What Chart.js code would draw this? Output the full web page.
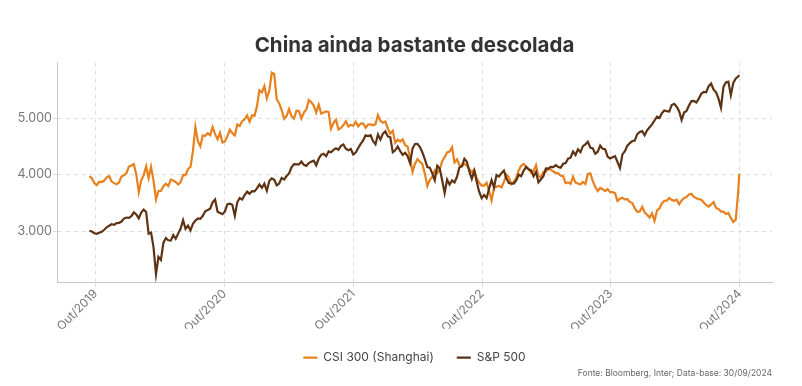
<!DOCTYPE html>
<html>
<head>
<meta charset="utf-8">
<title>China ainda bastante descolada</title>
<script src="https://cdn.jsdelivr.net/npm/chart.js@4.4.0/dist/chart.umd.min.js"></script>
<style>
  html, body { margin: 0; padding: 0; background: #fff; }
</style>
</head>
<body>
<canvas id="grafico" width="802" height="386"></canvas>
<script>
// semanas (sextas-feiras) a partir de 13/09/2019, mais o ultimo dia util 30/09/2024
var primeiraSemana = '2019-09-13';
var ultimoDia = '2024-09-30';

// CSI 300 (Shanghai), fechamentos semanais
var csi300 = [
  // 2019
  3972, 3935, 3852,
  3814, 3874, 3869, 3895,
  3952, 3973, 3877, 3849, 3828,
  3861, 3968, 3990, 4022,
  // 2020
  4144, 4163, 4186, 4003, 3690,
  3899, 3987, 4149, 3940,
  4139, 3895, 3560, 3710,
  3713, 3796, 3839, 3797,
  3912, 3895, 3868, 3824, 3867,
  3990, 3990, 4099, 4138,
  4415, 4844, 4594, 4505, 4695,
  4689, 4732, 4699, 4843,
  4717, 4628, 4739, 4570,
  4587, 4681, 4793, 4734, 4695,
  4888, 4861, 4948, 4980,
  5050, 4938, 5052, 5042,
  // 2021
  5211, 5495, 5458, 5569, 5351,
  5484, 5807, 5779, 5336,
  5262, 5146, 4990, 5037,
  5161, 5035, 4991, 5135, 5123,
  4996, 5101, 5153, 5321,
  5282, 5225, 5102, 5240,
  5082, 5102, 5122, 5112, 4812,
  4916, 4972, 4798, 4827,
  4879, 4947, 4855, 4880,
  4866, 4933, 4855, 4904, 4909,
  4832, 4888, 4889, 4874,
  4895, 5055, 4954, 4921, 4940,
  // 2022
  4818, 4726, 4779, 4564,
  4617, 4587, 4626, 4521,
  4499, 4301, 4050, 4189,
  4276, 4230, 4186, 4013, 3800,
  3908, 3961, 4077, 4027,
  4091, 4238, 4309, 4394,
  4409, 4485, 4216, 4272, 4170,
  4156, 4191, 4160, 4100,
  4044, 4085, 3932, 3856, 3804,
  3804, 3855, 3715, 3541,
  3768, 3787, 3801, 3775,
  3871, 4002, 3954, 3828, 3872,
  // 2023
  3945, 4074, 4156, 4190,
  4141, 4106, 4034, 4061,
  4167, 3967, 3958, 4049, 4051,
  4105, 4089, 4054, 4030,
  4025, 3982, 3974, 3850,
  3862, 3837, 3963, 3859, 3842,
  3826, 3869, 3833, 4013,
  4023, 3884, 3784, 3710,
  3765, 3740, 3708, 3743, 3689,
  3689, 3673, 3531, 3573,
  3590, 3562, 3564, 3517,
  3497, 3399, 3342, 3348, 3431,
  // 2024
  3329, 3290, 3239, 3314,
  3179, 3364, 3400, 3489,
  3537, 3540, 3587, 3552, 3537,
  3555, 3475, 3542, 3584,
  3604, 3647, 3659, 3605, 3580,
  3565, 3554, 3505, 3462,
  3432, 3472, 3514, 3409,
  3393, 3343, 3345, 3303, 3321,
  3233, 3160, 3201, 3703,
  4017
];

// S&P 500, fechamentos semanais
var sp500 = [
  // 2019
  3007, 2992, 2962,
  2952, 2970, 2986, 3023,
  3067, 3093, 3120, 3110, 3141,
  3146, 3169, 3221, 3240,
  // 2020
  3235, 3265, 3330, 3295, 3226,
  3328, 3380, 3338, 2954,
  2972, 2711, 2237, 2541,
  2489, 2790, 2875, 2837,
  2831, 2930, 2864, 2955, 3044,
  3194, 3041, 3098, 3009,
  3130, 3185, 3225, 3216, 3271,
  3351, 3373, 3397, 3508,
  3560, 3341, 3319, 3298,
  3348, 3477, 3484, 3465, 3270,
  3510, 3585, 3558, 3638,
  3699, 3663, 3709, 3703,
  // 2021
  3756, 3825, 3768, 3841, 3714,
  3887, 3934, 3907, 3811,
  3842, 3943, 3913, 3975,
  4020, 4129, 4185, 4180, 4181,
  4233, 4174, 4156, 4204,
  4230, 4247, 4166, 4281,
  4352, 4370, 4327, 4412, 4395,
  4437, 4468, 4442, 4509,
  4535, 4459, 4433, 4455,
  4357, 4391, 4471, 4545, 4605,
  4697, 4683, 4698, 4595,
  4538, 4712, 4620, 4726, 4766,
  // 2022
  4677, 4662, 4398, 4432,
  4500, 4419, 4349, 4385,
  4329, 4204, 4463, 4543,
  4546, 4488, 4393, 4272, 4132,
  4123, 4023, 3901, 4158,
  4109, 3901, 3675, 3912,
  3825, 3899, 3863, 3962, 4130,
  4145, 4280, 4228, 4058,
  3924, 4067, 3873, 3693, 3586,
  3640, 3583, 3753, 3901,
  3771, 3993, 3965, 4026,
  4072, 3934, 3852, 3845, 3840,
  // 2023
  3895, 3999, 3973, 4071,
  4136, 4090, 4079, 3970,
  4046, 3862, 3917, 3971, 4109,
  4105, 4138, 4133, 4169,
  4136, 4124, 4192, 4205,
  4282, 4299, 4410, 4348, 4450,
  4399, 4505, 4536, 4582,
  4478, 4464, 4370, 4406,
  4516, 4457, 4450, 4320, 4288,
  4308, 4327, 4224, 4117,
  4358, 4415, 4514, 4559,
  4595, 4604, 4719, 4755, 4770,
  // 2024
  4697, 4784, 4840, 4891,
  4959, 5027, 5005, 5089,
  5137, 5124, 5117, 5234, 5254,
  5204, 5123, 4967, 5100,
  5128, 5223, 5303, 5305, 5278,
  5347, 5432, 5465, 5460,
  5567, 5615, 5505, 5459,
  5347, 5186, 5554, 5635, 5648,
  5408, 5626, 5703, 5738,
  5762
];

var anosX = [2019, 2020, 2021, 2022, 2023, 2024];
var rotulosX = ['Out/2019', 'Out/2020', 'Out/2021', 'Out/2022', 'Out/2023', 'Out/2024'];
var ticksY = [3000, 4000, 5000];

var corCsi = '#E8801E';
var corSp = '#5E3314';

function anoDecimal(d) {
  var y = d.getUTCFullYear();
  var ini = Date.UTC(y, 0, 1), fim = Date.UTC(y + 1, 0, 1);
  return y + (d.getTime() - ini) / (fim - ini);
}

var datas = [];
var d0 = new Date(primeiraSemana + 'T00:00:00Z');
for (var i = 0; i < csi300.length - 1; i++) {
  datas.push(anoDecimal(new Date(d0.getTime() + i * 7 * 86400000)));
}
datas.push(anoDecimal(new Date(ultimoDia + 'T00:00:00Z')));

var posTicksX = anosX.map(function (a) { return anoDecimal(new Date(Date.UTC(a, 9, 1))); });

function pontos(valores) {
  return valores.map(function (v, i) { return { x: datas[i], y: v }; });
}

function milhar(v) {
  return String(v).replace(/\B(?=(\d{3})+(?!\d))/g, '.');
}

Chart.defaults.font.family = 'Inter, "Noto Sans", sans-serif';

var grafico = new Chart('grafico', {
  type: 'line',
  data: {
    datasets: [{
      label: 'S&P 500',
      data: pontos(sp500),
      borderColor: corSp,
      backgroundColor: corSp,
      borderWidth: 2.2
    }, {
      label: 'CSI 300 (Shanghai)',
      data: pontos(csi300),
      borderColor: corCsi,
      backgroundColor: corCsi,
      borderWidth: 2.2
    }]
  },
  options: {
    responsive: false,
    animation: false,
    events: [],
    layout: { padding: { left: 0, right: 30, top: 0, bottom: 0 } },
    elements: {
      point: { radius: 0 },
      line: { tension: 0 }
    },
    scales: {
      x: {
        type: 'linear',
        min: 2019.447,
        max: 2025.0,
        afterBuildTicks: function (scale) {
          scale.ticks = posTicksX.map(function (v) { return { value: v }; });
        },
        afterFit: function (scale) { scale.height = 46; },
        ticks: {
          autoSkip: false,
          minRotation: 45,
          maxRotation: 45,
          padding: 0,
          color: '#777',
          font: { size: 12 },
          callback: function (v, i) { return rotulosX[i]; }
        },
        grid: { color: '#dddddd', tickLength: 4, tickColor: '#dddddd' },
        border: { display: true, color: '#c8c8c8', width: 1, dash: [4, 4] }
      },
      y: {
        min: 2085,
        max: 5985,
        afterBuildTicks: function (scale) {
          scale.ticks = ticksY.map(function (v) { return { value: v }; });
        },
        afterFit: function (scale) { scale.width = 57; },
        ticks: {
          padding: 1,
          color: '#777',
          font: { size: 12.5 },
          callback: function (v) { return milhar(v); }
        },
        grid: { color: '#dddddd', tickLength: 4, tickColor: '#dddddd' },
        border: { display: true, color: '#c8c8c8', width: 1, dash: [4, 4] }
      }
    },
    plugins: {
      title: {
        display: true,
        text: 'China ainda bastante descolada',
        fullSize: false,
        color: '#333',
        font: { size: 20.5, weight: 'bold' },
        padding: { top: 34, bottom: 4 }
      },
      legend: {
        display: true,
        position: 'bottom',
        fullSize: false,
        reverse: true,
        labels: {
          usePointStyle: true,
          pointStyle: 'line',
          pointStyleWidth: 14,
          boxHeight: 12,
          padding: 23,
          color: '#444',
          font: { size: 12 }
        }
      },
      subtitle: {
        display: true,
        text: 'Fonte: Bloomberg, Inter; Data-base: 30/09/2024',
        position: 'bottom',
        align: 'end',
        fullSize: false,
        color: '#666',
        font: { size: 8.5 },
        padding: { top: -5.5, bottom: 7.6 }
      },
      tooltip: { enabled: false }
    }
  }
});
</script>
</body>
</html>
